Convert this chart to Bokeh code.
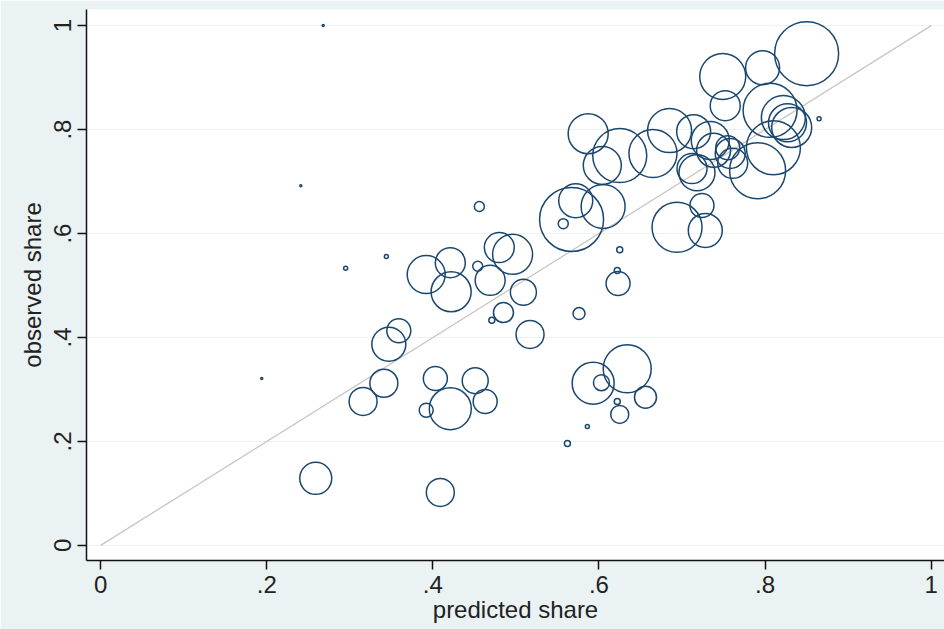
import numpy as np
from bokeh.plotting import figure
from bokeh.models import Range1d, ColumnDataSource, FixedTicker
from bokeh.embed import file_html
from bokeh.resources import INLINE

# predicted share (x), observed share (y), weight (marker area)
predicted = [0.259, 0.409, 0.194, 0.241, 0.268, 0.295, 0.344, 0.392, 0.421, 0.422,
             0.454, 0.469, 0.480, 0.496, 0.509, 0.485, 0.471, 0.517, 0.359, 0.347,
             0.341, 0.316, 0.403, 0.421, 0.392, 0.451, 0.463, 0.456, 0.623, 0.622,
             0.625, 0.576, 0.593, 0.603, 0.634, 0.656, 0.622, 0.625, 0.586, 0.562,
             0.567, 0.572, 0.605, 0.557, 0.587, 0.604, 0.625, 0.665, 0.685, 0.714,
             0.749, 0.752, 0.797, 0.850, 0.806, 0.822, 0.827, 0.832, 0.865, 0.791,
             0.810, 0.738, 0.758, 0.761, 0.712, 0.718, 0.724, 0.694, 0.728, 0.734,
             0.755]
observed = [0.129, 0.102, 0.321, 0.692, 1.000, 0.533, 0.556, 0.521, 0.544, 0.488,
            0.537, 0.510, 0.573, 0.560, 0.487, 0.448, 0.433, 0.406, 0.413, 0.387,
            0.312, 0.277, 0.321, 0.263, 0.260, 0.317, 0.277, 0.652, 0.504, 0.529,
            0.569, 0.446, 0.312, 0.313, 0.340, 0.285, 0.277, 0.252, 0.229, 0.196,
            0.627, 0.663, 0.652, 0.619, 0.792, 0.731, 0.750, 0.754, 0.798, 0.796,
            0.902, 0.846, 0.919, 0.946, 0.837, 0.823, 0.813, 0.804, 0.821, 0.721,
            0.765, 0.760, 0.754, 0.735, 0.725, 0.717, 0.654, 0.612, 0.606, 0.779,
            0.765]
weight = [256, 196, 1, 1, 1, 4, 4, 361, 225, 400,
          25, 225, 225, 400, 169, 100, 9, 196, 144, 289,
          196, 196, 144, 441, 49, 169, 144, 25, 144, 9,
          9, 36, 441, 64, 576, 121, 9, 81, 4, 9,
          1024, 289, 484, 25, 400, 361, 729, 576, 484, 289,
          529, 225, 289, 1024, 729, 484, 361, 400, 4, 784,
          729, 289, 225, 225, 225, 324, 144, 625, 289, 361,
          144]

tick_values = [0, 0.2, 0.4, 0.6, 0.8, 1]
tick_labels = ["0", ".2", ".4", ".6", ".8", "1"]
diag = [0, 1]

FONT = "'Liberation Sans Narrow', 'Liberation Sans', Arial, sans-serif"
NAVY = "#1a476f"
BG = "#eaf2f3"

src = ColumnDataSource(dict(x=predicted, y=observed,
                            size=2.0 * np.sqrt(np.array(weight, dtype=float))))

p = figure(width=944, height=629, output_backend="svg", toolbar_location=None,
           x_range=Range1d(-0.017, 1.016), y_range=Range1d(-0.029, 1.031),
           min_border_left=86, min_border_right=0, min_border_top=9,
           min_border_bottom=69)

p.border_fill_color = BG
p.background_fill_color = "white"
p.outline_line_color = None

# diagonal reference line
p.line(diag, diag, line_color="#cbc4c4", line_width=1.3)

p.scatter("x", "y", size="size", source=src, marker="circle",
          fill_color=None, line_color=NAVY, line_width=1.5)

p.xgrid.visible = False
p.ygrid.grid_line_color = "#eaf2f3"
p.ygrid.grid_line_width = 1.2
p.ygrid.ticker = FixedTicker(ticks=tick_values)

overrides = {v: l for v, l in zip(tick_values, tick_labels)}
for ax in (p.xaxis[0], p.yaxis[0]):
    ax.ticker = FixedTicker(ticks=tick_values)
    ax.major_label_overrides = overrides
    ax.minor_tick_line_color = None
    ax.axis_line_color = "#111111"
    ax.axis_line_width = 1.5
    ax.major_tick_line_color = "#111111"
    ax.major_tick_line_width = 1.5
    ax.major_tick_out = 9
    ax.major_tick_in = 0
    ax.major_label_text_font = FONT
    ax.major_label_text_font_size = "24px"
    ax.major_label_text_color = "#222222"
    ax.axis_label_text_font = FONT
    ax.axis_label_text_font_size = "24px"
    ax.axis_label_text_font_style = "normal"
    ax.axis_label_text_color = "#222222"

p.xaxis.axis_label = "predicted share"
p.yaxis.axis_label = "observed share"
p.yaxis.major_label_orientation = "vertical"
p.xaxis.major_label_standoff = 6
p.yaxis.major_label_standoff = 6
p.xaxis.axis_label_standoff = 0
p.yaxis.axis_label_standoff = 6

open("out.html", "w").write(file_html(p, INLINE))
